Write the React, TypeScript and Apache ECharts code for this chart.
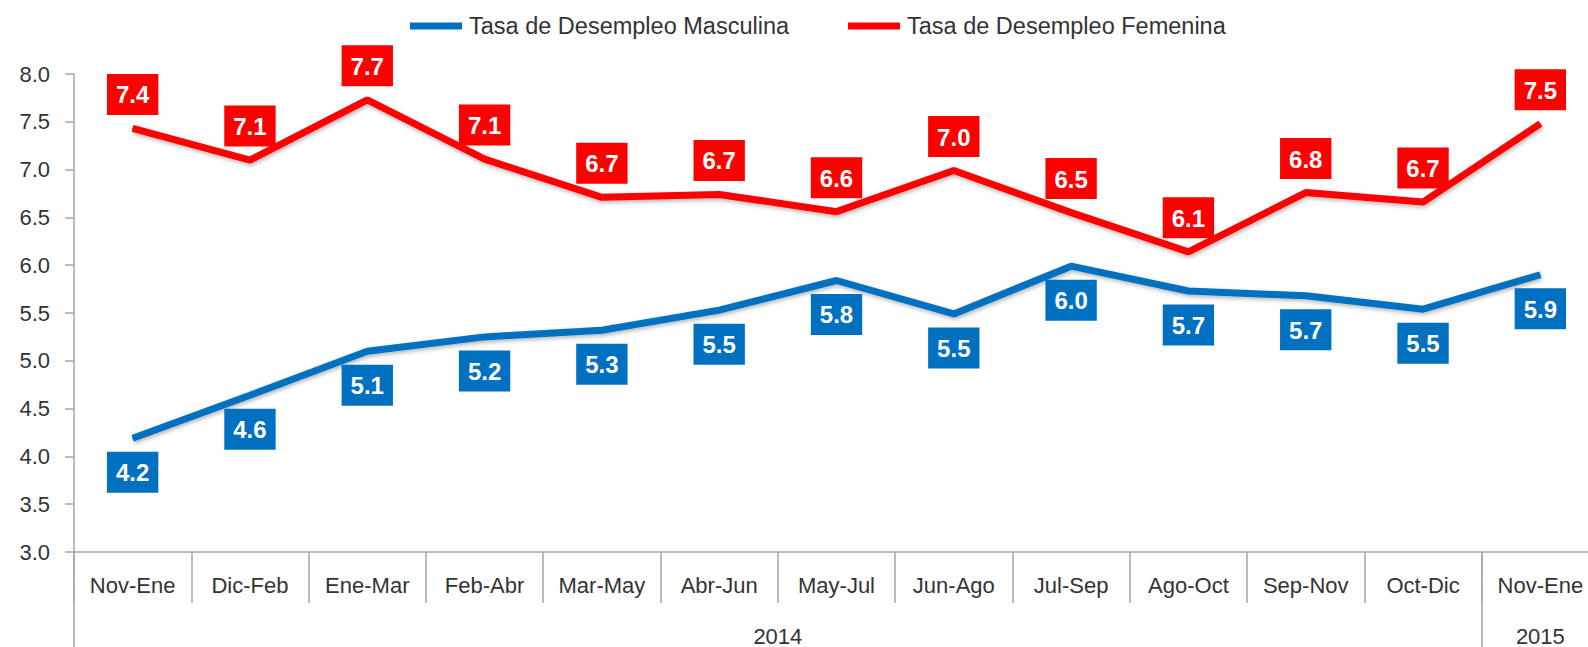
import React, { useEffect, useRef } from "react";
import * as echarts from "echarts";

const categories = [
  "Nov-Ene", "Dic-Feb", "Ene-Mar", "Feb-Abr", "Mar-May", "Abr-Jun", "May-Jul",
  "Jun-Ago", "Jul-Sep", "Ago-Oct", "Sep-Nov", "Oct-Dic", "Nov-Ene",
];
const years = ["2014", "2015"];
const maleValues = [4.19, 4.64, 5.1, 5.25, 5.32, 5.53, 5.84, 5.49, 5.99, 5.73, 5.68, 5.54, 5.9];
const maleLabels = ["4.2", "4.6", "5.1", "5.2", "5.3", "5.5", "5.8", "5.5", "6.0", "5.7", "5.7", "5.5", "5.9"];
const femaleValues = [7.43, 7.1, 7.73, 7.11, 6.71, 6.74, 6.56, 6.99, 6.55, 6.14, 6.76, 6.66, 7.48];
const femaleLabels = ["7.4", "7.1", "7.7", "7.1", "6.7", "6.7", "6.6", "7.0", "6.5", "6.1", "6.8", "6.7", "7.5"];
const maleName = "Tasa de Desempleo Masculina";
const femaleName = "Tasa de Desempleo Femenina";

const BLUE = "#0070C0";
const RED = "#FF0000";
const FONT = "Liberation Sans";
const AXIS_GRAY = "#A6A6A6";
const TEXT = "#333333";

export default function App() {
  const ref = useRef<HTMLDivElement>(null);
  useEffect(() => {
    if (!ref.current) return;
    const chart = echarts.init(ref.current, undefined, { renderer: "svg" });
    const boxLabel = (color: string, labels: string[], pos: "top" | "bottom") => ({
      show: true,
      position: pos,
      distance: 13,
      backgroundColor: color,
      color: "#ffffff",
      fontFamily: FONT,
      fontWeight: "bold",
      fontSize: 24,
      lineHeight: 24,
      padding: [9, 9, 8, 9],
      formatter: (p: any) => labels[p.dataIndex],
    });
    const lineStyle = (color: string) => ({
      color,
      width: 7,
      shadowColor: "rgba(0,0,0,0.3)",
      shadowBlur: 4,
      shadowOffsetX: 1,
      shadowOffsetY: 2,
    });
    chart.setOption({
      animation: false,
      legend: {
        left: 405,
        top: 9,
        icon: "rect",
        itemWidth: 52,
        itemHeight: 7,
        itemGap: 59,
        textStyle: { fontFamily: FONT, fontSize: 23.5, color: TEXT, padding: [0, 0, 0, 2] },
        data: [maleName, femaleName],
      },
      grid: { left: 74, right: 1, top: 74, bottom: 95, containLabel: false },
      xAxis: [
        {
          type: "category",
          data: categories,
          boundaryGap: true,
          axisLine: { show: true, lineStyle: { color: AXIS_GRAY, width: 1.5 } },
          axisTick: { show: true, interval: 0, length: 51, lineStyle: { color: AXIS_GRAY, width: 1.5 } },
          axisLabel: { interval: 0, margin: 22, fontFamily: FONT, fontSize: 22, color: TEXT },
        },
        {
          type: "value",
          position: "bottom",
          min: 0,
          max: 26,
          interval: 1,
          axisLine: { show: false },
          splitLine: { show: false },
          axisTick: { show: true, customValues: [0, 24], length: 95, lineStyle: { color: AXIS_GRAY, width: 1.5 } },
          axisLabel: {
            customValues: [12, 25],
            margin: 73,
            fontFamily: FONT,
            fontSize: 22,
            color: TEXT,
            formatter: (v: number) => (v === 12 ? years[0] : years[1]),
          },
        },
      ],
      yAxis: {
        type: "value",
        min: 3,
        max: 8,
        interval: 0.5,
        axisLine: { show: true, lineStyle: { color: AXIS_GRAY, width: 1.5 } },
        axisTick: { show: true, length: 9, lineStyle: { color: AXIS_GRAY, width: 1.5 } },
        splitLine: { show: false },
        axisLabel: {
          margin: 24,
          fontFamily: FONT,
          fontSize: 22,
          color: TEXT,
          formatter: (v: number) => v.toFixed(1),
        },
      },
      series: [
        {
          name: maleName,
          type: "line",
          data: maleValues,
          symbol: "circle",
          symbolSize: 1,
          showSymbol: true,
          itemStyle: { color: BLUE },
          lineStyle: lineStyle(BLUE),
          label: boxLabel(BLUE, maleLabels, "bottom"),
          z: 3,
        },
        {
          name: femaleName,
          type: "line",
          data: femaleValues,
          symbol: "circle",
          symbolSize: 1,
          showSymbol: true,
          itemStyle: { color: RED },
          lineStyle: lineStyle(RED),
          label: boxLabel(RED, femaleLabels, "top"),
          z: 3,
        },
      ],
    });
    return () => chart.dispose();
  }, []);
  return (
    <div
      ref={ref}
      style={{ position: "fixed", left: 0, top: 0, width: 1600, height: 647, background: "#ffffff" }}
    />
  );
}
